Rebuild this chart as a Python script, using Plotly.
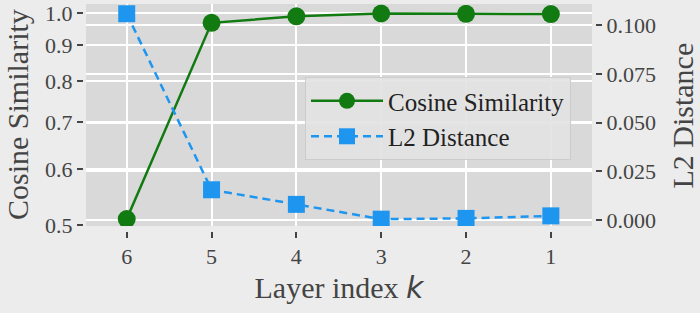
import plotly.graph_objects as go

layers = [6, 5, 4, 3, 2, 1]
cosine_similarity = [0.510, 0.968, 0.989, 0.998, 0.997, 0.996]
l2_distance = [0.1060, 0.0156, 0.0081, 0.0005, 0.0009, 0.0022]

cos_ticks = [0.5, 0.6, 0.7, 0.8, 0.9, 1.0]
cos_ticktext = ["0.5", "0.6", "0.7", "0.8", "0.9", "1.0"]
l2_ticks = [0.0, 0.025, 0.05, 0.075, 0.1]
l2_ticktext = ["0.000", "0.025", "0.050", "0.075", "0.100"]

GREEN = "#117a11"
BLUE = "#1e96f0"
SERIF = "Liberation Serif"
TXT = "#444444"

fig = go.Figure()
fig.add_trace(go.Scatter(
    x=layers, y=cosine_similarity, name="Cosine Similarity", mode="lines+markers",
    line=dict(color=GREEN, width=2.5), marker=dict(symbol="circle", size=18, color=GREEN),
    yaxis="y"))
fig.add_trace(go.Scatter(
    x=layers, y=l2_distance, name="L2 Distance", mode="lines+markers",
    line=dict(color=BLUE, width=2.5, dash="8px,5px"),
    marker=dict(symbol="square", size=17, color=BLUE),
    yaxis="y2"))

W, H = 700, 313
L, R, T, B = 83, 105, 1, 82
pw = W - L - R
ph = H - T - B

tickfont = dict(family=SERIF, size=22, color=TXT)
titlefont = dict(family=SERIF, size=30, color=TXT)

fig.update_layout(
    width=W, height=H,
    margin=dict(l=L, r=R, t=T, b=B, pad=0),
    paper_bgcolor="#ececec",
    plot_bgcolor="#d9d9d9",
    font=dict(family=SERIF, color=TXT, size=22),
    showlegend=True,
    legend=dict(
        x=(305 - L) / pw, y=1 - (75 - T) / ph, xanchor="left", yanchor="top",
        bgcolor="rgba(226,226,226,0.9)", bordercolor="#cccccc", borderwidth=1,
        font=dict(family=SERIF, size=25, color="#222222"),
        itemwidth=72, itemsizing="trace",
    ),
    xaxis=dict(
        domain=[3 / pw, 1 - 3 / pw],
        anchor="free", position=0,
        range=[6.48, 0.515],
        tickvals=layers, ticktext=[str(v) for v in layers],
        ticks="outside", ticklen=6, tickwidth=1.5, tickcolor=TXT,
        showgrid=True, gridcolor="white", gridwidth=2,
        zeroline=False, showline=False,
        tickfont=tickfont, ticklabeloverflow="allow",
        title=dict(text="Layer index <i><span style='font-family:DejaVu Sans'>k</span></i>",
                   font=titlefont, standoff=8),
    ),
    yaxis=dict(
        domain=[5 / ph, 1],
        anchor="free", position=0,
        type="log", range=[-0.3024, 0.0126],
        tickvals=cos_ticks, ticktext=cos_ticktext,
        ticks="outside", ticklen=6, tickwidth=1.5, tickcolor=TXT,
        showgrid=True, gridcolor="white", gridwidth=2,
        zeroline=False, showline=False,
        tickfont=tickfont, ticklabeloverflow="allow",
    ),
    yaxis2=dict(
        domain=[5 / ph, 1],
        overlaying="y", side="right", anchor="free", position=1,
        range=[-0.00304, 0.1110],
        tickvals=l2_ticks, ticktext=l2_ticktext,
        ticks="outside", ticklen=6, tickwidth=1.5, tickcolor=TXT,
        showgrid=True, gridcolor="white", gridwidth=2,
        zeroline=False, showline=False,
        tickfont=tickfont, ticklabeloverflow="allow",
    ),
    annotations=[
        dict(text="Cosine Similarity", xref="paper", yref="paper",
             x=(17 - L) / pw, y=1 - (113.5 - T) / ph, xanchor="center", yanchor="middle",
             textangle=-90, showarrow=False, font=titlefont),
        dict(text="L2 Distance", xref="paper", yref="paper",
             x=(683 - L) / pw, y=1 - (114 - T) / ph, xanchor="center", yanchor="middle",
             textangle=-90, showarrow=False, font=titlefont),
    ],
)

fig.write_html("out.html")
